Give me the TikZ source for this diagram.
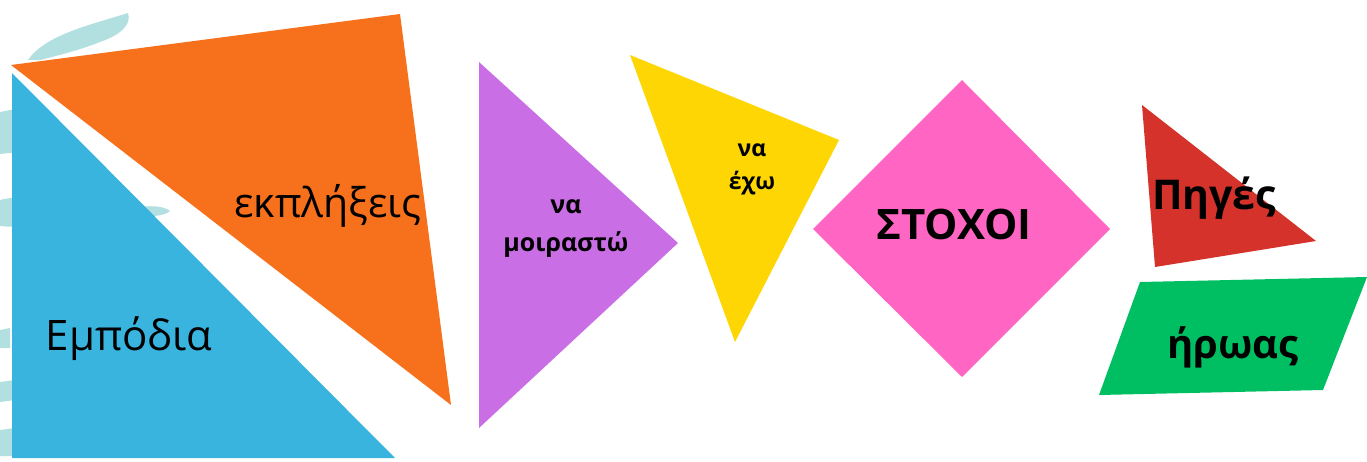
\documentclass[tikz,border=0pt]{standalone}
\usepackage{fontspec}
\setmainfont{Open Sans}
\begin{document}
\begin{tikzpicture}[x=1pt,y=-1pt]
\definecolor{cblue}{HTML}{38B4DE}
\definecolor{corange}{HTML}{F7701B}
\definecolor{cpurple}{HTML}{C96EE5}
\definecolor{cyellow}{HTML}{FDD604}
\definecolor{cpink}{HTML}{FF66C4}
\definecolor{cred}{HTML}{D4322A}
\definecolor{cgreen}{HTML}{00BF63}
\definecolor{cteal}{HTML}{B2DFDF}
\tikzset{lbl/.style={font=\fontsize{#1}{44}\selectfont, text=black, align=center},
  lblb/.style 2 args={font=\bfseries\fontsize{#1}{#2}\selectfont, text=black, align=center}}
\useasboundingbox (0,0) rectangle (1367,461);
% background brush strokes
\fill[cteal] (28,60) .. controls (45,35) and (90,25) .. (128,13) .. controls (132,25) and (120,35) .. (100,42) .. controls (80,50) and (60,55) .. (40,60) -- cycle;
\fill[cteal] (0,112) .. controls (10,110) and (20,108) .. (30,106) -- (30,150) .. controls (20,152) and (10,153) .. (0,154) -- cycle;
\fill[cteal] (0,200) .. controls (20,195) and (40,198) .. (60,196) -- (60,225) .. controls (40,226) and (20,228) .. (0,226) -- cycle;
\fill[cteal] (140,207) .. controls (155,205) and (165,207) .. (170,211) .. controls (165,216) and (150,217) .. (145,215) -- cycle;
\fill[cteal] (0,330) -- (10,328) -- (10,348) -- (0,348) -- cycle;
\fill[cteal] (0,382) -- (15,380) -- (15,400) -- (0,402) -- cycle;
\fill[cteal] (0,430) -- (15,428) -- (15,456) -- (0,456) -- cycle;
% shapes
\fill[cblue] (12,73) coordinate (b1) -- (12,458) coordinate (b2) -- (395,458) coordinate (b3) -- cycle;
\fill[corange] (11,65) coordinate (o1) -- (400,14) coordinate (o2) -- (451,405) coordinate (o3) -- cycle;
\fill[cpurple] (479,62) coordinate (p1) -- (678,243) coordinate (p2) -- (479,428) coordinate (p3) -- cycle;
\fill[cyellow] (630,55) coordinate (y1) -- (839,140) coordinate (y2) -- (735,342) coordinate (y3) -- cycle;
\fill[cpink] (962,80) coordinate (d1) -- (1110,229) coordinate (d2) -- (962,377) coordinate (d3) -- (813,229) coordinate (d4) -- cycle;
\fill[cred] (1142,105) coordinate (r1) -- (1316,241) coordinate (r2) -- (1155,267) coordinate (r3) -- cycle;
\fill[cgreen] (1140,282) coordinate (g1) -- (1367,277) coordinate (g2) -- (1323,390) coordinate (g3) -- (1099,395) coordinate (g4) -- cycle;
% labels
\node[lbl=42] (tblue) at (129,339) {Εμπόδια};
\node[lbl=41] (torange) at (328,206) {εκπλήξεις};
\node[lblb={25}{38}] (tpurple) at (566,229) {να\\μοιραστώ};
\node[lblb={23}{33}] (tyellow) at (752,169) {να\\έχω};
\node[lblb={42}{46}] (tpink) at (954,224) {ΣΤΟΧΟΙ};
\node[lblb={41}{46}] (tred) at (1214,198) {Πηγές};
\node[lblb={40}{46}] (tgreen) at (1233,347) {ήρωας};
\end{tikzpicture}
\end{document}
